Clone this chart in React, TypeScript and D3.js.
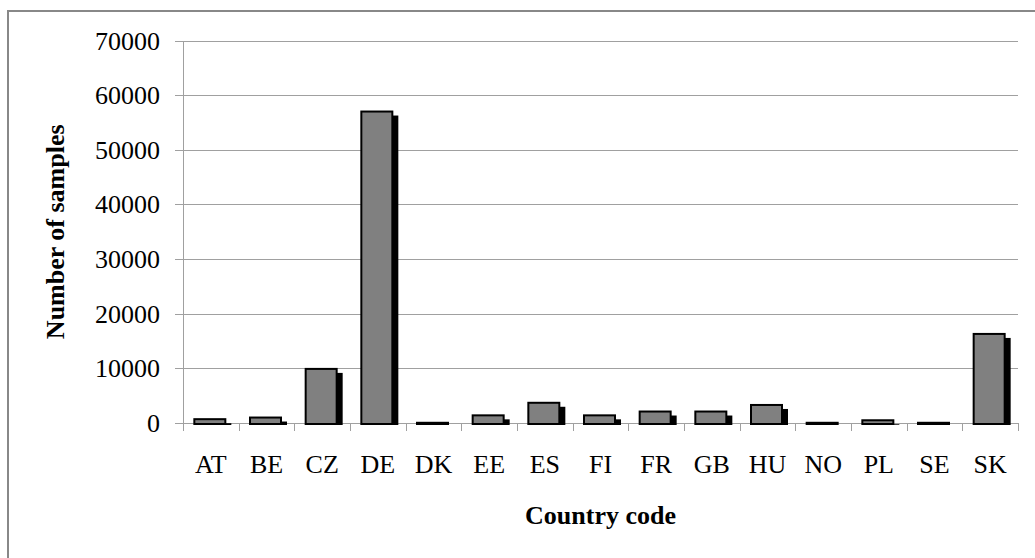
import React from "react";
import * as d3 from "d3";

const categories = ["AT", "BE", "CZ", "DE", "DK", "EE", "ES", "FI", "FR", "GB", "HU", "NO", "PL", "SE", "SK"];
const values = [700, 1000, 9900, 57000, 40, 1400, 3700, 1400, 2100, 2100, 3300, 40, 500, 40, 16300];
const yTicks = [0, 10000, 20000, 30000, 40000, 50000, 60000, 70000];
const xTitle = "Country code";
const yTitle = "Number of samples";

const W = 1035;
const H = 558;
const left = 183;
const right = 1018;
const top = 40.5;
const bottom = 423;
const font = "'Liberation Serif', 'Times New Roman', serif";

export default function App() {
  const x = d3.scaleBand<string>().domain(categories).range([left, right]).padding(0);
  const y = d3.scaleLinear().domain([0, 70000]).range([bottom, top]);
  const bw = x.bandwidth();
  const boundaries = d3.range(categories.length + 1).map((i) => left + i * bw);

  return (
    <svg width={W} height={H} style={{ position: "absolute", left: 0, top: 0, background: "#fff" }}>
      <rect x={0} y={0} width={W} height={H} fill="#fff" />
      <rect x={8} y={11} width={W + 20} height={H + 20} fill="none" stroke="#888" strokeWidth={2} />
      {/* gridlines */}
      {yTicks.map((t) => (
        <line key={"g" + t} x1={left - 8} x2={right} y1={Math.round(y(t)) + 0.5} y2={Math.round(y(t)) + 0.5} stroke="#a0a0a0" strokeWidth={1} />
      ))}
      {/* y axis */}
      <line x1={left + 0.5} x2={left + 0.5} y1={Math.round(top)} y2={bottom + 8} stroke="#a0a0a0" strokeWidth={1} />
      {/* x ticks */}
      {boundaries.map((bx, i) => (
        <line key={"xt" + i} x1={Math.round(bx) + 0.5} x2={Math.round(bx) + 0.5} y1={bottom} y2={bottom + 8} stroke="#a0a0a0" strokeWidth={1} />
      ))}
      {/* y tick labels */}
      {yTicks.map((t) => (
        <text key={"yl" + t} x={160} y={y(t) + 9} textAnchor="end" fontFamily={font} fontSize={26} fill="#000">
          {t}
        </text>
      ))}
      {/* bars */}
      {categories.map((c, i) => {
        const cx = (x(c) as number) + bw / 2;
        const x0 = cx - 16.5;
        const wFront = 31;
        const yTop = y(values[i]);
        const h = bottom + 1 - yTop;
        return (
          <g key={c}>
            <rect x={x0 + wFront} y={Math.min(yTop + 4, bottom + 1)} width={6} height={Math.max(0, bottom + 2 - (yTop + 4))} fill="#000" />
            <rect x={x0} y={yTop} width={wFront} height={Math.max(0, h)} fill="#808080" stroke="#000" strokeWidth={2} />
          </g>
        );
      })}
      {/* x labels */}
      {categories.map((c) => (
        <text key={"xl" + c} x={(x(c) as number) + bw / 2} y={473} textAnchor="middle" fontFamily={font} fontSize={26} fill="#000">
          {c}
        </text>
      ))}
      <text x={(left + right) / 2} y={524} textAnchor="middle" fontFamily={font} fontSize={26} fontWeight="bold" fill="#000">
        {xTitle}
      </text>
      <text transform={`translate(64, ${(top + bottom) / 2}) rotate(-90)`} textAnchor="middle" fontFamily={font} fontSize={26} fontWeight="bold" fill="#000">
        {yTitle}
      </text>
    </svg>
  );
}
